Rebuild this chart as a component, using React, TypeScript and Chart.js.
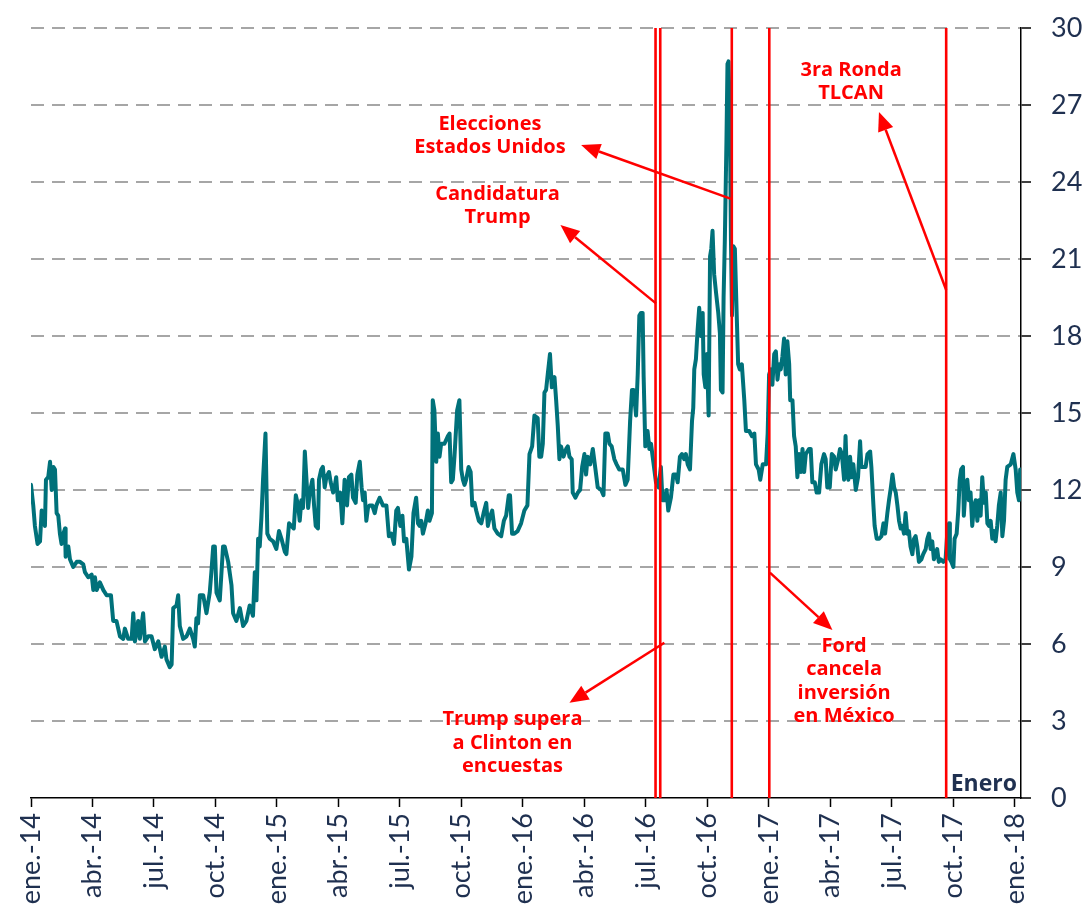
import React, { useEffect, useRef } from 'react';
import { Chart, registerables } from 'chart.js';

Chart.register(...registerables);

// x = meses transcurridos desde enero de 2014
const ticksMeses = [0, 3, 6, 9, 12, 15, 18, 21, 24, 27, 30, 33, 36, 39, 42, 45, 48];
const etiquetasX = [
  'ene.-14', 'abr.-14', 'jul.-14', 'oct.-14',
  'ene.-15', 'abr.-15', 'jul.-15', 'oct.-15',
  'ene.-16', 'abr.-16', 'jul.-16', 'oct.-16',
  'ene.-17', 'abr.-17', 'jul.-17', 'oct.-17',
  'ene.-18',
];

const serie2014: [number, number][] = [
  [0, 12.2], [0.11, 11.4], [0.19, 10.6], [0.32, 9.9], [0.44, 10.0], [0.52, 11.2], [0.6, 11.1], [0.68, 10.6],
  [0.73, 12.4], [0.84, 12.5], [0.93, 13.1], [1.01, 12.0], [1.09, 12.9], [1.17, 12.8], [1.25, 11.1], [1.33, 11.0],
  [1.41, 10.3], [1.49, 9.9], [1.58, 10.3], [1.66, 10.5], [1.69, 9.4], [1.82, 9.8], [1.9, 9.3], [2.06, 9.0],
  [2.23, 9.2], [2.39, 9.2], [2.55, 9.1], [2.63, 8.8], [2.79, 8.6], [2.96, 8.7], [3.04, 8.1], [3.12, 8.6],
  [3.2, 8.1], [3.36, 8.4], [3.53, 8.1], [3.69, 7.9], [3.9, 7.9], [4.01, 6.9], [4.17, 6.9], [4.34, 6.3],
  [4.5, 6.2], [4.58, 6.6], [4.74, 6.2], [4.91, 6.2], [4.99, 7.2], [5.07, 6.1], [5.23, 6.9], [5.31, 6.2],
  [5.47, 7.2], [5.56, 6.1], [5.72, 6.3], [5.88, 6.3], [6.04, 5.8], [6.21, 6.1], [6.37, 5.5], [6.53, 5.9],
  [6.61, 5.4], [6.77, 5.1], [6.86, 5.2], [6.94, 7.4], [7.1, 7.5], [7.18, 7.9], [7.26, 6.7], [7.42, 6.2],
  [7.59, 6.3], [7.75, 6.6], [7.91, 6.2], [7.99, 5.9], [8.07, 7.0], [8.15, 6.8], [8.24, 7.9], [8.4, 7.9],
  [8.56, 7.2], [8.72, 8.0], [8.8, 8.8], [8.89, 9.8], [8.97, 9.8], [9.05, 8.0], [9.21, 7.7], [9.37, 9.8],
  [9.45, 9.8], [9.62, 9.2], [9.78, 8.3], [9.86, 7.2], [10.02, 6.9], [10.19, 7.4], [10.35, 6.7], [10.51, 6.9],
  [10.67, 7.5], [10.83, 7.1], [10.92, 8.8], [11.0, 7.7], [11.08, 10.1], [11.16, 9.8], [11.24, 10.9], [11.32, 12.4],
  [11.44, 14.2], [11.53, 10.3], [11.65, 10.1], [11.81, 10.0], [11.97, 9.7],
];

const serie2015: [number, number][] = [
  [12.1, 10.4], [12.22, 10.1], [12.38, 9.6], [12.46, 9.5], [12.59, 10.7], [12.7, 10.6], [12.82, 10.5], [12.92, 11.8],
  [13.03, 11.4], [13.11, 10.8], [13.19, 11.6], [13.27, 11.3], [13.36, 13.5], [13.44, 12.4], [13.52, 11.3], [13.6, 11.9],
  [13.73, 12.4], [13.81, 11.4], [13.89, 10.6], [14.0, 10.5], [14.05, 12.4], [14.16, 12.8], [14.24, 12.9], [14.33, 12.1],
  [14.41, 12.5], [14.54, 12.7], [14.62, 12.3], [14.74, 11.9], [14.81, 12.1], [14.89, 12.5], [14.97, 11.6], [15.09, 11.9],
  [15.19, 10.7], [15.3, 12.4], [15.42, 11.4], [15.51, 12.5], [15.63, 12.6], [15.71, 11.7], [15.84, 11.5], [15.92, 12.6],
  [16.04, 13.1], [16.13, 12.1], [16.2, 11.6], [16.28, 11.9], [16.36, 10.8], [16.44, 11.3], [16.52, 11.4], [16.65, 11.4],
  [16.77, 11.1], [16.85, 11.4], [17.01, 11.7], [17.17, 11.4], [17.34, 11.4], [17.46, 10.2], [17.58, 10.3], [17.71, 9.9],
  [17.82, 11.2], [17.9, 11.3], [18.02, 10.6], [18.12, 11.0], [18.2, 10.0], [18.31, 10.1], [18.44, 8.9], [18.56, 9.4],
  [18.66, 11.1], [18.79, 11.7], [18.88, 10.7], [18.96, 10.6], [19.04, 10.8], [19.12, 10.3], [19.25, 10.7], [19.36, 11.2],
  [19.44, 10.8], [19.56, 11.1], [19.6, 15.5], [19.68, 15.1], [19.77, 13.1], [19.85, 14.2], [19.93, 13.3], [20.01, 13.8],
  [20.17, 13.8], [20.34, 14.1], [20.42, 14.2], [20.5, 12.3], [20.58, 12.4], [20.66, 13.3], [20.79, 15.1], [20.9, 15.5],
  [20.99, 12.8], [21.07, 12.4], [21.15, 12.2], [21.23, 12.4], [21.35, 12.9], [21.45, 12.7], [21.53, 11.4], [21.64, 11.5],
  [21.72, 11.2], [21.85, 10.8], [21.97, 10.7], [22.08, 11.1], [22.21, 11.5], [22.29, 10.6], [22.37, 10.9], [22.5, 11.2],
  [22.61, 10.5], [22.77, 10.3], [22.94, 10.2], [23.07, 10.8], [23.18, 11.0], [23.31, 11.8], [23.37, 11.8], [23.47, 10.3],
  [23.58, 10.3], [23.74, 10.4], [23.91, 10.7],
];

const serie2016: [number, number][] = [
  [24.07, 11.2], [24.22, 11.4], [24.32, 13.4], [24.45, 13.7], [24.56, 14.9], [24.72, 14.8], [24.8, 13.3], [24.89, 13.3],
  [24.97, 13.8], [25.05, 15.8], [25.13, 15.9], [25.21, 16.5], [25.32, 17.3], [25.41, 16.0], [25.54, 16.4], [25.62, 15.5],
  [25.7, 14.5], [25.78, 13.2], [25.86, 13.7], [25.98, 13.3], [26.11, 13.6], [26.19, 13.7], [26.27, 13.3], [26.38, 13.2],
  [26.43, 11.9], [26.56, 11.7], [26.68, 11.9], [26.79, 12.0], [26.89, 12.9], [27.0, 13.4], [27.08, 12.6], [27.16, 13.3],
  [27.28, 13.0], [27.41, 13.6], [27.54, 12.8], [27.65, 12.1], [27.82, 12.0], [27.93, 11.8], [28.02, 14.2], [28.14, 14.2],
  [28.22, 13.8], [28.33, 13.7], [28.46, 13.2], [28.57, 13.0], [28.7, 12.8], [28.87, 12.8], [29.0, 12.2], [29.11, 12.4],
  [29.23, 14.7], [29.32, 15.9], [29.4, 15.9], [29.52, 14.9], [29.6, 16.5], [29.68, 18.8], [29.76, 18.9], [29.84, 18.9],
  [29.89, 16.4], [29.97, 13.7], [30.08, 14.3], [30.17, 13.6], [30.25, 13.8], [30.33, 13.3], [30.41, 12.8], [30.49, 12.3],
  [30.62, 12.1], [30.73, 12.9], [30.81, 11.6], [30.9, 11.6], [31.01, 12.0], [31.09, 11.2], [31.22, 11.7], [31.34, 12.6],
  [31.47, 12.6], [31.55, 12.3], [31.66, 13.3], [31.76, 13.4], [31.87, 13.2], [31.95, 13.4], [32.04, 13.0], [32.15, 12.8],
  [32.25, 14.7], [32.31, 15.2], [32.36, 16.7], [32.44, 17.1], [32.52, 18.2], [32.6, 19.1], [32.69, 18.0], [32.77, 18.9],
  [32.82, 16.5], [32.9, 16.0], [32.98, 17.3], [33.06, 14.9], [33.13, 21.1], [33.19, 21.4], [33.25, 22.1], [33.33, 20.4],
  [33.42, 19.7], [33.53, 18.9], [33.61, 18.1], [33.66, 15.9], [33.74, 15.8], [33.79, 19.5], [33.85, 21.7], [33.93, 25.6],
  [33.98, 28.6], [34.03, 28.7], [34.1, 26.3], [34.15, 21.7], [34.2, 18.8], [34.26, 21.5], [34.34, 21.4], [34.42, 19.1],
  [34.5, 16.9], [34.58, 16.7], [34.68, 16.9], [34.8, 15.5], [34.88, 14.3], [35.04, 14.3], [35.17, 14.1], [35.29, 14.2],
  [35.37, 13.0], [35.5, 12.8], [35.58, 12.4], [35.7, 13.0], [35.86, 13.0],
];

const serie2017: [number, number][] = [
  [35.94, 14.2], [36.01, 16.5], [36.09, 16.7], [36.17, 16.1], [36.26, 17.3], [36.34, 17.4], [36.42, 16.3], [36.5, 16.9],
  [36.58, 16.7], [36.66, 17.2], [36.74, 17.9], [36.82, 16.5], [36.9, 17.8], [36.99, 16.9], [37.04, 15.5], [37.15, 15.5],
  [37.23, 14.1], [37.31, 13.7], [37.39, 12.5], [37.47, 13.4], [37.56, 12.7], [37.64, 13.6], [37.72, 12.7], [37.8, 13.4],
  [37.88, 13.5], [37.96, 13.6], [38.04, 13.6], [38.12, 12.3], [38.24, 12.3], [38.33, 11.9], [38.45, 11.9], [38.56, 13.0],
  [38.69, 13.4], [38.77, 13.2], [38.85, 12.1], [38.97, 12.1], [39.07, 13.4], [39.18, 13.3], [39.26, 12.8], [39.38, 13.2],
  [39.47, 13.6], [39.56, 13.4], [39.67, 12.4], [39.74, 14.1], [39.8, 12.7], [39.88, 12.4], [39.96, 13.3], [40.04, 12.5],
  [40.12, 13.0], [40.24, 12.0], [40.35, 12.5], [40.45, 13.9], [40.51, 12.9], [40.61, 12.9], [40.72, 12.9], [40.81, 13.4],
  [40.94, 13.5], [41.0, 12.9], [41.1, 11.4], [41.16, 10.6], [41.26, 10.1], [41.38, 10.1], [41.49, 10.2], [41.59, 10.7],
  [41.67, 10.3], [41.78, 11.1], [41.86, 11.6], [41.95, 12.1], [42.03, 12.6], [42.11, 12.1], [42.19, 11.9], [42.27, 11.4],
  [42.35, 10.8], [42.43, 10.5], [42.51, 10.6], [42.59, 10.3], [42.67, 11.1], [42.75, 10.3], [42.83, 10.4], [42.91, 9.8],
  [43.0, 9.5], [43.08, 10.1], [43.16, 10.2], [43.24, 9.8], [43.32, 9.2], [43.44, 9.3], [43.53, 9.5], [43.65, 9.7],
  [43.73, 10.1], [43.81, 10.3], [43.89, 9.7], [43.97, 10.0], [44.05, 9.3], [44.13, 9.5], [44.21, 9.7], [44.29, 9.2],
  [44.38, 9.3], [44.51, 9.2], [44.62, 9.3], [44.7, 10.3], [44.79, 10.7], [44.83, 9.3], [44.9, 9.2], [45.0, 9.0],
  [45.06, 10.1], [45.16, 10.3], [45.24, 11.2], [45.31, 12.4], [45.38, 12.8], [45.47, 12.9], [45.51, 11.0], [45.6, 12.1],
  [45.68, 12.4], [45.76, 11.6], [45.84, 11.9], [45.92, 10.6], [46.01, 11.4], [46.09, 11.6], [46.17, 10.8], [46.25, 11.6],
  [46.33, 11.0], [46.41, 12.5], [46.49, 11.5], [46.58, 11.9], [46.66, 10.7], [46.74, 10.6], [46.82, 10.8], [46.9, 10.1],
  [46.98, 10.4], [47.06, 10.0], [47.14, 10.6], [47.22, 11.4], [47.31, 11.9], [47.39, 10.2], [47.47, 10.8], [47.55, 12.4],
  [47.63, 12.9], [47.8, 13.0], [47.93, 13.4], [48.04, 12.8], [48.12, 11.9], [48.2, 11.6], [48.26, 12.8], [48.3, 11.9],
];

// Eventos (x en meses desde ene.-14, y en unidades del eje)
const lineasEventos = [30.47, 30.7, 34.19, 36.02, 44.65];
const flechas = [
  { desde: [34.19, 23.33], hasta: [26.84, 25.44] },
  { desde: [30.49, 19.27], hasta: [25.83, 22.32] },
  { desde: [30.9, 6.05], hasta: [26.27, 3.71] },
  { desde: [36.05, 8.78], hasta: [39.1, 6.55] },
  { desde: [44.65, 19.79], hasta: [41.37, 26.73] },
];
const textos = [
  { lineas: ['Elecciones', 'Estados Unidos'], x: 22.39, y: 26.03 },
  { lineas: ['Candidatura', 'Trump'], x: 22.76, y: 23.3 },
  { lineas: ['Trump supera', 'a Clinton en', 'encuestas'], x: 23.49, y: 2.84 },
  { lineas: ['Ford', 'cancela', 'inversión', 'en México'], x: 39.67, y: 5.7 },
  { lineas: ['3ra Ronda', 'TLCAN'], x: 40.01, y: 28.13 },
];
const notaEje = 'Enero';

const ROJO = '#FF0000';
const AZUL = '#1F3050';
const VERDE = '#00717A';

const pluginEventos = {
  id: 'eventos',
  afterDatasetsDraw(chart: any) {
    const { ctx, chartArea, scales } = chart;
    const sx = scales.x;
    const sy = scales.y;
    ctx.save();
    ctx.strokeStyle = ROJO;
    ctx.fillStyle = ROJO;
    ctx.lineWidth = 2.6;
    for (const m of lineasEventos) {
      const px = sx.getPixelForValue(m);
      ctx.beginPath();
      ctx.moveTo(px, chartArea.top);
      ctx.lineTo(px, chartArea.bottom);
      ctx.stroke();
    }
    ctx.lineWidth = 2.5;
    for (const f of flechas) {
      const x1 = sx.getPixelForValue(f.desde[0]);
      const y1 = sy.getPixelForValue(f.desde[1]);
      const x2 = sx.getPixelForValue(f.hasta[0]);
      const y2 = sy.getPixelForValue(f.hasta[1]);
      const ang = Math.atan2(y2 - y1, x2 - x1);
      const L = 19;
      const W = 8;
      const bx = x2 - L * Math.cos(ang);
      const by = y2 - L * Math.sin(ang);
      ctx.beginPath();
      ctx.moveTo(x1, y1);
      ctx.lineTo(bx, by);
      ctx.stroke();
      ctx.beginPath();
      ctx.moveTo(x2, y2);
      ctx.lineTo(bx + W * Math.sin(ang), by - W * Math.cos(ang));
      ctx.lineTo(bx - W * Math.sin(ang), by + W * Math.cos(ang));
      ctx.closePath();
      ctx.fill();
    }
    ctx.font = 'bold 20px "Open Sans"';
    ctx.textAlign = 'center';
    ctx.textBaseline = 'alphabetic';
    for (const t of textos) {
      const px = sx.getPixelForValue(t.x);
      const py = sy.getPixelForValue(t.y);
      t.lineas.forEach((l, i) => ctx.fillText(l, px, py + i * 23.4));
    }
    ctx.font = 'bold 23px "Open Sans"';
    ctx.fillStyle = AZUL;
    ctx.textAlign = 'right';
    ctx.fillText(notaEje, chartArea.right - 4, chartArea.bottom - 7);
    ctx.restore();
  },
};

export default function App() {
  const ref = useRef<HTMLCanvasElement>(null);
  useEffect(() => {
    if (!ref.current) return;
    const datos = [...serie2014, ...serie2015, ...serie2016, ...serie2017].map(([x, y]) => ({ x, y }));
    const chart = new Chart(ref.current, {
      type: 'line',
      data: {
        datasets: [
          {
            data: datos,
            borderColor: VERDE,
            borderWidth: 4,
            pointRadius: 0,
            tension: 0,
            borderJoinStyle: 'round',
            borderCapStyle: 'round',
          },
        ],
      },
      options: {
        animation: false,
        responsive: false,
        devicePixelRatio: 1,
        layout: { padding: { left: 31, top: 28, right: 0, bottom: 0 } },
        plugins: { legend: { display: false }, tooltip: { enabled: false } },
        scales: {
          x: {
            type: 'linear',
            position: 'bottom',
            min: 0,
            max: 48.3,
            afterBuildTicks: (s: any) => {
              s.ticks = ticksMeses.map((v) => ({ value: v }));
            },
            afterFit: (s: any) => {
              s.height = 112;
            },
            ticks: {
              autoSkip: false,
              minRotation: 90,
              maxRotation: 90,
              padding: 6,
              color: AZUL,
              font: { family: 'Lato', size: 27 },
              callback: (_v: any, i: number) => etiquetasX[i] ?? '',
            },
            grid: {
              display: true,
              drawOnChartArea: false,
              drawTicks: true,
              tickLength: 9,
              tickColor: '#000',
              tickWidth: 1.5,
            },
            border: { display: true, color: '#000', width: 1.5 },
          },
          y: {
            position: 'right',
            min: 0,
            max: 30,
            afterFit: (s: any) => {
              s.width = 68;
              s.paddingTop = 0;
              s.paddingBottom = 0;
            },
            ticks: {
              stepSize: 3,
              padding: 20,
              color: AZUL,
              font: { family: 'Lato', size: 27 },
            },
            grid: {
              color: (c: any) => (c.tick && c.tick.value === 0 ? 'rgba(0,0,0,0)' : '#A6A6A6'),
              lineWidth: 2,
              drawTicks: true,
              tickLength: 10,
              tickColor: '#000',
              tickWidth: 1.5,
            },
            border: { display: true, color: '#000', width: 1.5, dash: [13, 8] },
          },
        },
      },
      plugins: [pluginEventos],
    } as any);
    return () => chart.destroy();
  }, []);
  return (
    <div style={{ position: 'absolute', left: 0, top: 0, width: 1089, height: 910, background: '#fff' }}>
      <canvas ref={ref} width={1089} height={910} style={{ display: 'block' }} />
    </div>
  );
}
